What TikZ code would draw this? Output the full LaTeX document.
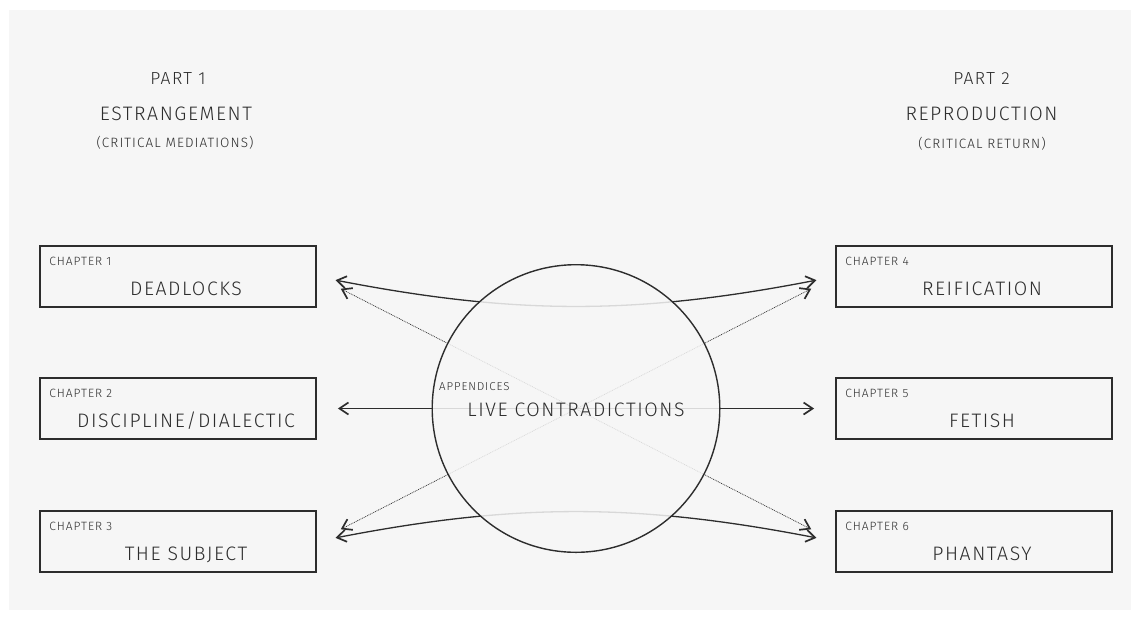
\documentclass[tikz,border=0pt]{standalone}
\usepackage{fontspec}
\setmainfont{Fira Sans Light}[LetterSpace=8]
\usetikzlibrary{arrows.meta,calc}
\definecolor{ink}{RGB}{45,45,45}
\definecolor{paper}{RGB}{246,246,246}
\tikzset{chev/.tip={Straight Barb[length=9pt,width=12pt,line width=1.7pt]}}
\begin{document}
\begin{tikzpicture}[x=1pt,y=-1pt,
  chapbox/.style={draw=ink,line width=1.8pt,minimum width=276pt,minimum height=61pt,inner sep=0pt},
  chaptitle/.style={anchor=base,text=ink,inner sep=0pt,font=\fontsize{19.5}{20}\selectfont},
  chaplabel/.style={anchor=base west,text=ink,inner sep=0pt,font=\fontsize{12}{13}\selectfont},
  head/.style={anchor=base,text=ink,inner sep=0pt},
  link/.style={draw=ink,line width=1.3pt,chev-chev,shorten <=19pt,shorten >=19pt},
  dotlink/.style={draw=ink,line width=0.7pt,dash pattern=on 0.9pt off 0.9pt,chev-chev,shorten <=26.8pt,shorten >=26.8pt},
  core/.style={circle,minimum size=287.6pt,inner sep=0pt,fill=paper,fill opacity=0.85,draw=ink,draw opacity=1,line width=1.4pt}
]
\useasboundingbox (0,0) rectangle (1139,619);
\fill[white] (0,0) rectangle (1139,619);
\fill[paper] (9,10) rectangle (1131,610);

% part headings
\node[head,font=\fontsize{17.5}{18}\selectfont] (p1) at (178,84.3) {PART 1};
\node[head,font=\fontsize{19.5}{20}\selectfont] (p1t) at (176,120.7) {ESTRANGEMENT};
\node[head,font=\fontsize{13.5}{15}\selectfont] (p1s) at (175,147.5) {(CRITICAL MEDIATIONS)};
\node[head,font=\fontsize{17.5}{18}\selectfont] (p2) at (981.5,84.3) {PART 2};
\node[head,font=\fontsize{19.5}{20}\selectfont] (p2t) at (981.5,120.7) {REPRODUCTION};
\node[head,font=\fontsize{13.5}{15}\selectfont] (p2s) at (982,148) {(CRITICAL RETURN)};

% chapter boxes
\node[chapbox] (c1) at (178,276.5) {};
\node[chapbox] (c2) at (178,408.5) {};
\node[chapbox] (c3) at (178,541.5) {};
\node[chapbox] (c4) at (974,276.5) {};
\node[chapbox] (c5) at (974,408.5) {};
\node[chapbox] (c6) at (974,541.5) {};

\node[chaplabel] (c1l) at ($(c1.north west)+(10,20)$) {CHAPTER 1};
\node[chaplabel] (c2l) at ($(c2.north west)+(10,20)$) {CHAPTER 2};
\node[chaplabel] (c3l) at ($(c3.north west)+(10,20)$) {CHAPTER 3};
\node[chaplabel] (c4l) at ($(c4.north west)+(10,20)$) {CHAPTER 4};
\node[chaplabel] (c5l) at ($(c5.north west)+(10,20)$) {CHAPTER 5};
\node[chaplabel] (c6l) at ($(c6.north west)+(10,20)$) {CHAPTER 6};

\node[chaptitle] (c1t) at ($(c1.south)+(8,-12)$) {DEADLOCKS};
\node[chaptitle] (c2t) at ($(c2.south)+(8,-12)$) {DISCIPLINE/DIALECTIC};
\node[chaptitle] (c3t) at ($(c3.south)+(8,-12)$) {THE SUBJECT};
\node[chaptitle] (c4t) at ($(c4.south)+(8,-12)$) {REIFICATION};
\node[chaptitle] (c5t) at ($(c5.south)+(8,-12)$) {FETISH};
\node[chaptitle] (c6t) at ($(c6.south)+(8,-12)$) {PHANTASY};

% connectors between the two parts
\draw[link] (c1.east) to[bend right=11] (c4.west);
\draw[link,shorten <=21pt,shorten >=21pt] (c2.east) -- (c5.west);
\draw[link] (c3.east) to[bend left=11] (c6.west);
\draw[dotlink] (c1.east) -- (c6.west);
\draw[dotlink] (c3.east) -- (c4.west);

% the central circle veils the lines that cross it
\node[core] (hub) at (576,408.5) {};
\node[head,font=\fontsize{19.5}{21}\selectfont] (live) at (576,416.7) {LIVE CONTRADICTIONS};
\node[anchor=base west,text=ink,inner sep=0pt,font=\fontsize{11.5}{12}\selectfont] (app) at (439,390) {APPENDICES};
\end{tikzpicture}
\end{document}
